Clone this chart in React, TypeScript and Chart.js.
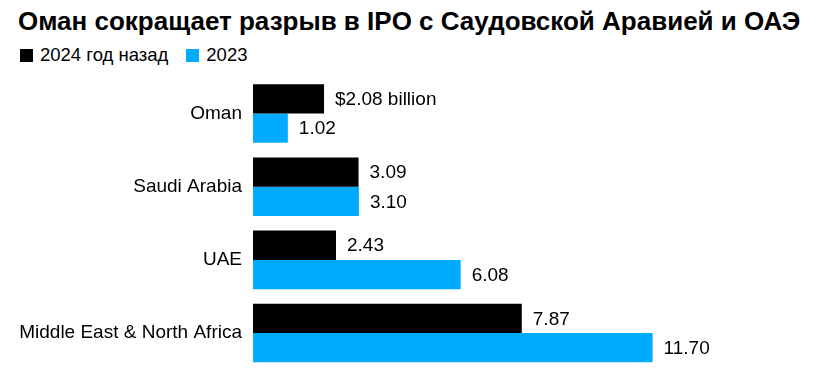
import React, { useEffect, useRef } from "react";
import { Chart, registerables } from "chart.js";

Chart.register(...registerables);

const titleText = "Оман сокращает разрыв в IPO с Саудовской Аравией и ОАЭ";
const categories = ["Oman", "Saudi Arabia", "UAE", "Middle East & North Africa"];
const seriesNames = ["2024 год назад", "2023"];
const values2024 = [2.08, 3.09, 2.43, 7.87];
const values2023 = [1.02, 3.1, 6.08, 11.7];
const seriesColors = ["#000000", "#00aaff"];
const xMax = 13;

const FONT = '"Liberation Sans", Arial, Helvetica, sans-serif';

const valueLabels = {
  id: "valueLabels",
  afterDatasetsDraw(chart: any) {
    const ctx = chart.ctx;
    ctx.save();
    ctx.font = `19px ${FONT}`;
    ctx.fillStyle = "#000";
    ctx.textBaseline = "middle";
    ctx.textAlign = "left";
    chart.data.datasets.forEach((ds: any, di: number) => {
      const meta = chart.getDatasetMeta(di);
      meta.data.forEach((el: any, i: number) => {
        const v = ds.data[i] as number;
        let txt = v.toFixed(2);
        if (di === 0 && i === 0) txt = `$${txt} billion`;
        ctx.fillText(txt, el.x + 11, el.y + 1);
      });
    });
    ctx.restore();
  },
};

export default function App() {
  const canvasRef = useRef<HTMLCanvasElement | null>(null);

  useEffect(() => {
    if (!canvasRef.current) return;
    const chart = new Chart(canvasRef.current, {
      type: "bar",
      data: {
        labels: categories,
        datasets: [
          {
            label: seriesNames[0],
            data: values2024,
            backgroundColor: seriesColors[0],
            borderWidth: 0,
            categoryPercentage: 0.8,
            barPercentage: 1,
          },
          {
            label: seriesNames[1],
            data: values2023,
            backgroundColor: seriesColors[1],
            borderWidth: 0,
            categoryPercentage: 0.8,
            barPercentage: 1,
          },
        ],
      },
      options: {
        indexAxis: "y",
        animation: false,
        responsive: false,
        maintainAspectRatio: false,
        layout: { padding: { left: 0, right: 122, top: 77, bottom: 21 } },
        plugins: {
          legend: { display: false },
          title: { display: false },
          tooltip: { enabled: false },
        },
        scales: {
          x: {
            display: false,
            min: 0,
            max: xMax,
          },
          y: {
            grid: { display: false, drawTicks: false },
            border: { display: false },
            ticks: {
              color: "#000",
              padding: 11,
              font: { family: FONT, size: 19 },
            },
            afterFit(scale: any) {
              scale.width = 253;
            },
          },
        },
      },
      plugins: [valueLabels],
    } as any);
    return () => chart.destroy();
  }, []);

  return (
    <div
      style={{
        position: "absolute",
        left: 0,
        top: 0,
        width: 819,
        height: 392,
        background: "#fff",
        fontFamily: FONT,
        color: "#000",
      }}
    >
      <div
        style={{
          position: "absolute",
          left: 18,
          top: 8,
          fontSize: 26,
          lineHeight: "26px",
          fontWeight: 700,
          whiteSpace: "nowrap",
        }}
      >
        {titleText}
      </div>
      <div
        style={{
          position: "absolute",
          left: 20,
          top: 46,
          height: 18,
          display: "flex",
          alignItems: "center",
          fontSize: 18.5,
          lineHeight: "18px",
          whiteSpace: "nowrap",
        }}
      >
        {seriesNames.map((name, i) => (
          <div key={name} style={{ display: "flex", alignItems: "center", marginRight: 18 }}>
            <span
              style={{
                display: "inline-block",
                width: 13,
                height: 13,
                background: seriesColors[i],
                marginRight: 7,
              }}
            />
            <span>{name}</span>
          </div>
        ))}
      </div>
      <canvas
        ref={canvasRef}
        width={819}
        height={392}
        style={{ position: "absolute", left: 0, top: 0, width: 819, height: 392 }}
      />
    </div>
  );
}
